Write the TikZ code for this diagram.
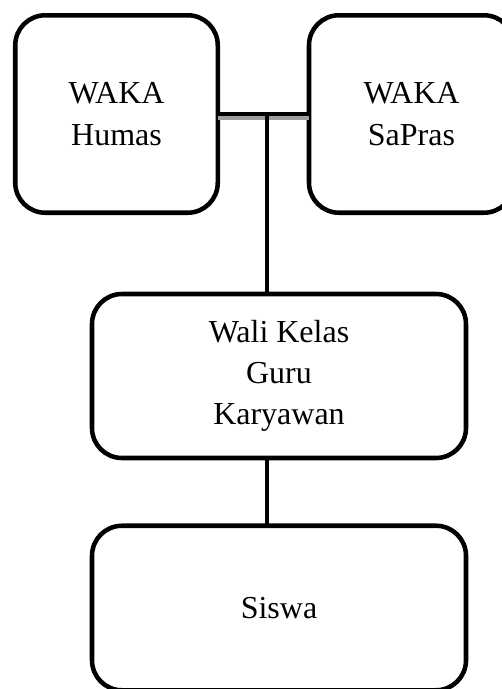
\documentclass[tikz,border=0pt]{standalone}
\usepackage{fontspec}
\setmainfont{Liberation Serif}
\begin{document}
\begin{tikzpicture}[x=0.75pt,y=-0.75pt,
  orgbox/.style={draw=black, line width=3.4pt, rounded corners=22.5pt, align=center,
    font=\fontsize{24}{31}\selectfont, inner sep=0pt, outer sep=0pt},
  link/.style={draw=black, line width=3.6pt},
  thinlink/.style={draw=black, line width=2.3pt},
  shadowlink/.style={draw=black!38, line width=2.5pt}]
\useasboundingbox (0,0) rectangle (502,689);
\clip (0,0) rectangle (502,689);
\node[orgbox, minimum width=151.9pt, minimum height=148.1pt] (humas) at (116.5,114) {WAKA\\Humas};
\node[orgbox, minimum width=153.75pt, minimum height=148.1pt] (sapras) at (411.5,114) {WAKA\\SaPras};
\node[orgbox, minimum width=280.5pt, minimum height=123pt] (wali) at (279,376) {Wali Kelas\\Guru\\Karyawan};
\node[orgbox, minimum width=280.5pt, minimum height=123.4pt] (siswa) at (279,608) {Siswa};
\coordinate (sh1) at ([yshift=-3.1pt]humas.east);
\coordinate (sh2) at ([yshift=-3.1pt]sapras.west);
\draw[shadowlink] (sh1) -- (sh2);
\draw[link] (humas.east) -- (sapras.west);
\coordinate (junc) at (267,114);
\coordinate (walitop) at (267,294);
\coordinate (walibot) at (267,458);
\coordinate (siswatop) at (267,525.5);
\draw[thinlink] (junc) -- (walitop);
\draw[link] (walibot) -- (siswatop);
\end{tikzpicture}
\end{document}
